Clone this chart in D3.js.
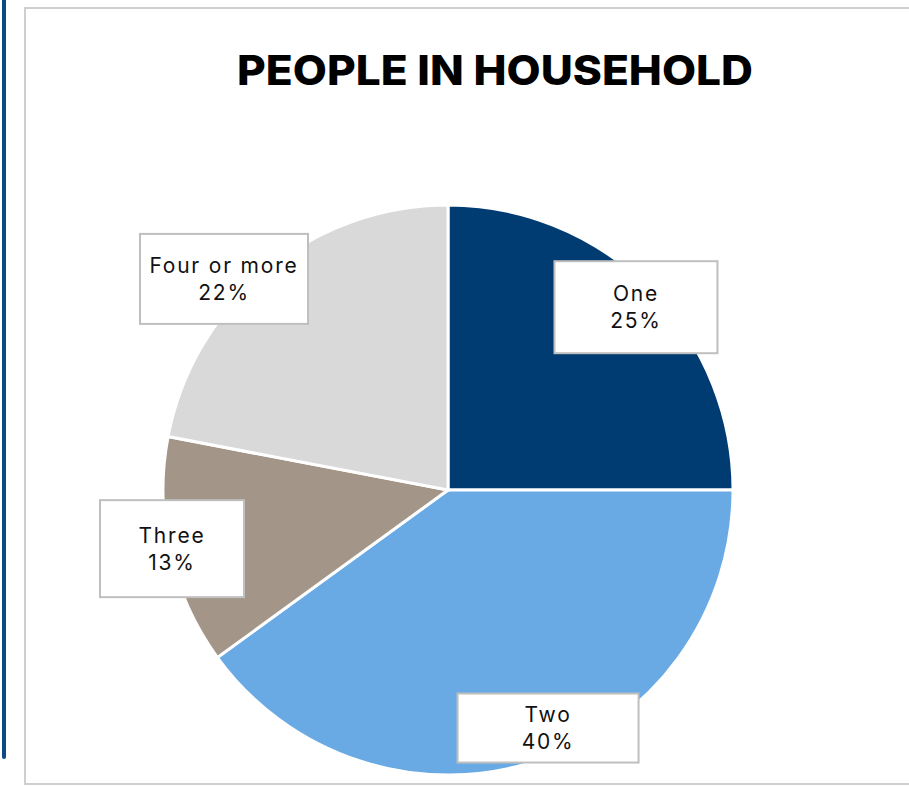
<!DOCTYPE html>
<html>
<head>
<meta charset="utf-8">
<script src="https://cdn.jsdelivr.net/npm/d3@7"></script>
<style>
  html, body { margin: 0; padding: 0; background: #ffffff; }
  svg { display: block; }
</style>
</head>
<body>
<svg id="chart" width="909" height="786"></svg>
<script>
// Household size shares (percent)
const categories = ["One", "Two", "Three", "Four or more"];
const values = [25, 40, 13, 22];
const colors = ["#003b71", "#6aaae4", "#a39689", "#d9d9d9"];
const title = "PEOPLE IN HOUSEHOLD";

// Callout placement: angle (deg, clockwise from 12 o'clock), distance as a fraction of the radius, box size
const calloutAngle = [45.8, 157.2, 258, 313.3];
const calloutDist = [0.92, 0.906, 0.99, 1.08];
const calloutSize = [[163, 92], [181, 69], [144, 97], [168, 90]];

const svg = d3.select("#chart");
const W = 909, H = 786;

// Accent rule at the far left
svg.append("line")
  .attr("x1", 4).attr("x2", 4)
  .attr("y1", -10).attr("y2", 757)
  .attr("stroke", "#0c4a86").attr("stroke-width", 4)
  .attr("stroke-linecap", "round");

// Chart frame
svg.append("rect")
  .attr("x", 25).attr("y", 8)
  .attr("width", W).attr("height", 776)
  .attr("fill", "#ffffff")
  .attr("stroke", "#cfcfcf").attr("stroke-width", 2);

// Title
svg.append("text")
  .attr("x", 495).attr("y", 85)
  .attr("text-anchor", "middle")
  .attr("font-family", "Inter, 'DejaVu Sans', sans-serif")
  .attr("font-weight", 800)
  .attr("font-size", 41)
  .attr("textLength", 516)
  .attr("lengthAdjust", "spacingAndGlyphs")
  .attr("fill", "#000000")
  .text(title);

const cx = 448, cy = 490, R = 285;

const pie = d3.pie().sort(null).value(d => d)(values);
const arc = d3.arc().innerRadius(0).outerRadius(R);

const g = svg.append("g").attr("transform", `translate(${cx},${cy})`);

g.selectAll("path.slice")
  .data(pie)
  .join("path")
  .attr("class", "slice")
  .attr("d", arc)
  .attr("fill", (d, i) => colors[i])
  .attr("stroke", "#ffffff")
  .attr("stroke-width", 3)
  .attr("stroke-linejoin", "miter");

// Data callouts
const fmt = d3.format(".0%");
const labels = g.selectAll("g.callout")
  .data(pie)
  .join("g")
  .attr("class", "callout")
  .attr("transform", (d, i) => {
    const a = calloutAngle[i] * Math.PI / 180;
    const r = calloutDist[i] * R;
    return `translate(${r * Math.sin(a)},${-r * Math.cos(a)})`;
  });

labels.append("rect")
  .attr("x", (d, i) => -calloutSize[i][0] / 2)
  .attr("y", (d, i) => -calloutSize[i][1] / 2)
  .attr("width", (d, i) => calloutSize[i][0])
  .attr("height", (d, i) => calloutSize[i][1])
  .attr("fill", "#ffffff")
  .attr("stroke", "#bfbfbf")
  .attr("stroke-width", 2);

const txt = labels.append("text")
  .attr("text-anchor", "middle")
  .attr("font-family", "Inter, 'DejaVu Sans', sans-serif")
  .attr("font-size", 21)
  .attr("letter-spacing", 1.8)
  .attr("fill", "#111111");

txt.append("tspan")
  .attr("x", 0).attr("y", -6)
  .text((d, i) => categories[i]);

txt.append("tspan")
  .attr("x", 0).attr("y", 21)
  .text(d => fmt(d.data / 100));
</script>
</body>
</html>
